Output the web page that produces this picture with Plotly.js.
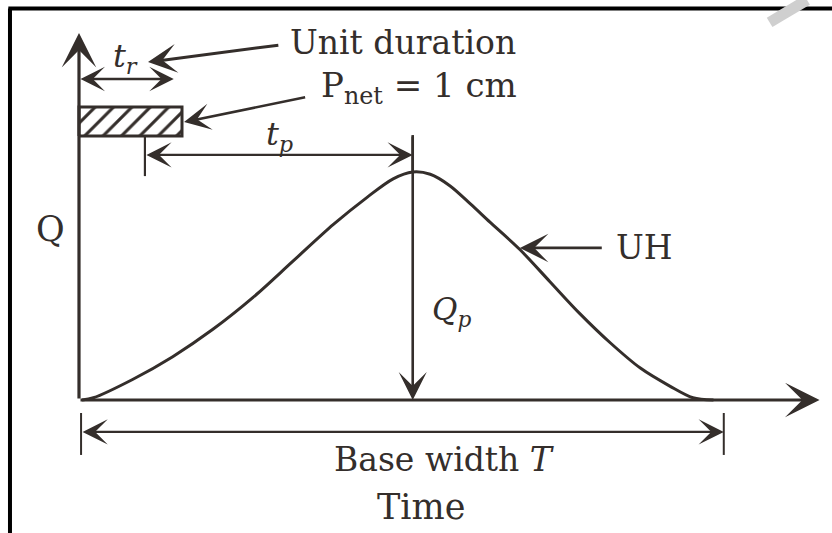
<!DOCTYPE html>
<html>
<head>
<meta charset="utf-8">
<script src="https://cdn.plot.ly/plotly-3.0.1.min.js"></script>
<style>html,body{margin:0;padding:0;background:#fff;}#chart{width:832px;height:533px;}</style>
</head>
<body>
<div id="chart"></div>
<script>
// Unit hydrograph (time in units of the unit duration t_r, Q as ratio of peak Qp)
const timeH  = [0.03,0.14,0.52,0.91,1.30,1.69,2.08,2.47,2.80,3.05,3.24,3.41,3.60,3.80,3.99,4.28,4.57,4.86,5.16,5.45,5.74,5.96,6.16];
const qRatio = [0.00,0.01,0.09,0.19,0.31,0.45,0.61,0.77,0.89,0.97,1.00,0.99,0.94,0.86,0.78,0.66,0.52,0.38,0.25,0.14,0.06,0.01,0.00];

// Key quantities of the diagram
const tr = 1.0;          // unit duration
const tpStart = 0.64;    // start of t_p measurement
const tPeak = 3.24;      // time of peak
const Qp = 1.0;          // peak discharge
const baseT = 6.26;      // base width T
const xAxisEnd = 7.19;
const yAxisEnd = 1.61;
const rainBottom = 1.158, rainTop = 1.285;

const ink = '#342e2b';
const font = 'DejaVu Serif';

const traces = [
  {
    x: timeH, y: qRatio, type: 'scatter', mode: 'lines',
    line: {color: ink, width: 3, shape: 'spline', smoothing: 0.9},
    hoverinfo: 'skip'
  },
  {
    x: [0, tr, tr, 0, 0], y: [rainBottom, rainBottom, rainTop, rainTop, rainBottom],
    type: 'scatter', mode: 'lines', fill: 'toself',
    fillcolor: 'white',
    fillpattern: {shape: '/', size: 13, solidity: 0.24, fgcolor: ink, bgcolor: 'white'},
    line: {color: ink, width: 3}, hoverinfo: 'skip'
  }
];

function arrow(x, y, ax, ay, opts) {
  return Object.assign({
    x: x, y: y, ax: ax, ay: ay, xref: 'x', yref: 'y', axref: 'x', ayref: 'y',
    text: '', showarrow: true, arrowhead: 3, arrowsize: 1.8, arrowwidth: 2.5,
    arrowcolor: ink, standoff: 0, startstandoff: 0
  }, opts || {});
}
function label(x, y, text, size, opts) {
  return Object.assign({
    x: x, y: y, xref: 'x', yref: 'y', text: text, showarrow: false,
    font: {family: font, size: size, color: ink}, xanchor: 'center', yanchor: 'middle'
  }, opts || {});
}

const annotations = [
  // axes
  arrow(xAxisEnd, 0, 0, 0, {arrowwidth: 3.2, arrowsize: 1.8}),
  arrow(0, yAxisEnd, 0, 0, {arrowwidth: 3.2, arrowsize: 1.8}),
  // t_r double arrow
  arrow(0.92, 1.408, 0.0, 1.408, {arrowside: 'end+start', arrowwidth: 2.4, arrowsize: 1.7}),
  // unit duration pointer
  arrow(0.67, 1.482, 1.95, 1.557, {arrowwidth: 3, arrowsize: 1.6}),
  // P_net pointer
  arrow(1.02, 1.219, 2.21, 1.329, {arrowwidth: 2.6, arrowsize: 1.7}),
  // t_p double arrow
  arrow(tPeak, 1.075, tpStart, 1.075, {arrowside: 'end+start', arrowwidth: 2.1, arrowsize: 2}),
  // Qp vertical arrow
  arrow(tPeak, 0, tPeak, 1.162, {arrowwidth: 2.6, arrowsize: 1.8}),
  // UH pointer
  arrow(4.28, 0.667, 5.09, 0.667, {arrowwidth: 2.8, arrowsize: 1.7}),
  // base width double arrow
  arrow(baseT, -0.14, 0.02, -0.14, {arrowside: 'end+start', arrowwidth: 2.1, arrowsize: 2}),
  // labels
  label(0.45, 1.5, '<i>t</i><sub><i>r</i></sub>', 32),
  label(3.15, 1.57, 'Unit duration', 33),
  label(3.30, 1.37, 'P<sub>net</sub> = 1 cm', 34),
  label(1.95, 1.16, '<i>t</i><sub><i>p</i></sub>', 32),
  label(-0.28, 0.75, 'Q', 35),
  label(3.62, 0.39, '<i>Q</i><sub><i>p</i></sub>', 31),
  label(5.49, 0.671, 'UH', 33),
  label(3.55, -0.263, 'Base width <i>T</i>', 33),
  label(3.32, -0.469, 'Time', 35)
];

const shapes = [
  // tick at start of t_p
  {type: 'line', xref: 'x', yref: 'y', x0: tpStart, x1: tpStart, y0: rainBottom, y1: 0.982, line: {color: ink, width: 2.2}},
  // peak vertical extends above
  {type: 'line', xref: 'x', yref: 'y', x0: tPeak, x1: tPeak, y0: Qp, y1: 1.162, line: {color: ink, width: 2.6}},
  // base width ticks
  {type: 'line', xref: 'x', yref: 'y', x0: 0.02, x1: 0.02, y0: -0.057, y1: -0.241, line: {color: ink, width: 2}},
  {type: 'line', xref: 'x', yref: 'y', x0: baseT, x1: baseT, y0: -0.057, y1: -0.241, line: {color: ink, width: 2}},
  // frame
  {type: 'line', xref: 'paper', yref: 'paper', x0: 0.012, x1: 0.012, y0: 0, y1: 0.984, line: {color: '#000', width: 4}},
  {type: 'line', xref: 'paper', yref: 'paper', x0: 0.010, x1: 1, y0: 0.984, y1: 0.984, line: {color: '#000', width: 4}},
  // faint watermark stroke
  {type: 'line', xref: 'paper', yref: 'paper', x0: 0.970, x1: 0.925, y0: 1.0, y1: 0.958, line: {color: '#cfcfcf', width: 11}}
];

const layout = {
  width: 832, height: 533,
  margin: {l: 0, r: 0, t: 0, b: 0},
  paper_bgcolor: 'white', plot_bgcolor: 'white',
  showlegend: false,
  xaxis: {range: [-79/103, 753/103], visible: false, fixedrange: true},
  yaxis: {range: [-133/228, 400/228], visible: false, fixedrange: true},
  annotations: annotations,
  shapes: shapes
};

Plotly.newPlot('chart', traces, layout, {displayModeBar: false, staticPlot: true});
</script>
</body>
</html>
